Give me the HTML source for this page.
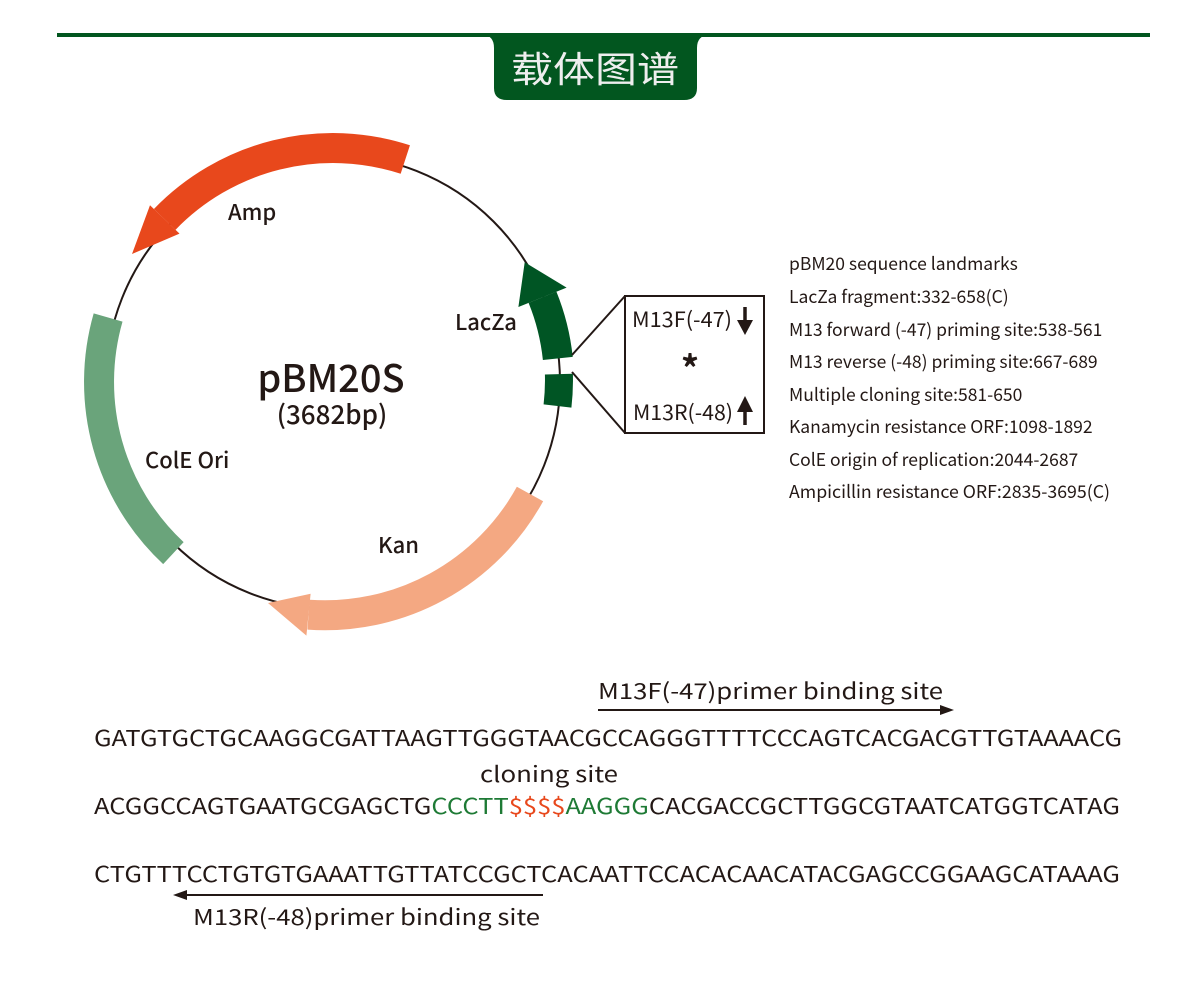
<!DOCTYPE html>
<html><head><meta charset="utf-8"><style>
html,body{margin:0;padding:0;background:#fff}
svg{display:block}
text{font-family:"Noto Sans CJK SC","Liberation Sans",sans-serif;fill:#231815}
</style></head><body>
<svg width="1200" height="1002" viewBox="0 0 1200 1002" xmlns="http://www.w3.org/2000/svg">
<!-- header -->
<rect x="57" y="33" width="1093" height="4" fill="#02561f"/>
<path d="M482,35 Q494,35 494,48 L494,88 Q494,100 507,100 L684,100 Q697,100 697,88 L697,48 Q697,35 710,35 Z" fill="#02561f"/>
<text x="595" y="82" text-anchor="middle" font-size="36" style="fill:#eee" textLength="168" lengthAdjust="spacingAndGlyphs">载体图谱</text>

<!-- plasmid circle -->
<circle cx="333" cy="382" r="227" fill="none" stroke="#231815" stroke-width="2"/>
<!-- Amp -->
<path d="M405.3,159.5 A234,234 0 0 0 164.7,219.4" fill="none" stroke="#e8481c" stroke-width="30"/>
<polygon points="179.5,233.6 150,205.2 132,254" fill="#e8481c"/>
<!-- Kan -->
<path d="M530,494 A234,234 0 0 1 308.5,614.7" fill="none" stroke="#f4a882" stroke-width="30"/>
<polygon points="310.6,593.8 306.4,635.6 268,603" fill="#f4a882"/>
<!-- ColE -->
<path d="M108.1,317.5 A234,234 0 0 0 173.4,553.1" fill="none" stroke="#6aa47b" stroke-width="30"/>
<!-- LacZa -->
<path d="M557.8,358.4 A226,226 0 0 0 542.5,297.3" fill="none" stroke="#005524" stroke-width="30"/>
<polygon points="518.4,307 566.6,287.6 524.7,262.2" fill="#005524"/>
<path d="M558.9,374.1 A226,226 0 0 1 557.5,406" fill="none" stroke="#005524" stroke-width="28"/>

<!-- zoom box -->
<line x1="572" y1="355" x2="625" y2="296" stroke="#231815" stroke-width="2"/>
<line x1="572" y1="372" x2="625" y2="433" stroke="#231815" stroke-width="2"/>
<rect x="625" y="296" width="139" height="137" fill="#fff" stroke="#231815" stroke-width="2"/>
<text x="632" y="327" font-size="21" textLength="100" lengthAdjust="spacingAndGlyphs">M13F(-47)</text>
<line x1="745" y1="307" x2="745" y2="330" stroke="#231815" stroke-width="3.5"/>
<polygon points="737,320 753,320 745,335" fill="#231815"/>
<text x="690" y="382" font-size="36" text-anchor="middle" font-weight="bold">*</text>
<text x="633" y="420" font-size="21" textLength="100" lengthAdjust="spacingAndGlyphs">M13R(-48)</text>
<line x1="745" y1="405" x2="745" y2="425" stroke="#231815" stroke-width="3.5"/>
<polygon points="737,412 753,412 745,396" fill="#231815"/>

<!-- labels -->
<g font-weight="500">
<text x="228" y="220" font-size="22">Amp</text>
<text x="455" y="330" font-size="22">LacZa</text>
<text x="145" y="468" font-size="22">ColE Ori</text>
<text x="378" y="553" font-size="22">Kan</text>
<text x="331" y="392" font-size="38" text-anchor="middle">pBM20S</text>
<text x="332" y="424" font-size="26" text-anchor="middle">(3682bp)</text>
</g>

<!-- legend -->
<g font-size="17.5">
<text x="789" y="270">pBM20 sequence landmarks</text>
<text x="789" y="303">LacZa fragment:332-658(C)</text>
<text x="789" y="336">M13 forward (-47) priming site:538-561</text>
<text x="789" y="368">M13 reverse (-48) priming site:667-689</text>
<text x="789" y="401">Multiple cloning site:581-650</text>
<text x="789" y="433">Kanamycin resistance ORF:1098-1892</text>
<text x="789" y="466">ColE origin of replication:2044-2687</text>
<text x="789" y="498" textLength="321" lengthAdjust="spacingAndGlyphs">Ampicillin resistance ORF:2835-3695(C)</text>
</g>

<!-- sequences -->
<text x="598" y="699" font-size="22" textLength="345" lengthAdjust="spacingAndGlyphs">M13F(-47)primer binding site</text>
<line x1="598" y1="710" x2="942" y2="710" stroke="#231815" stroke-width="2"/>
<polygon points="940,705 954,710 940,715" fill="#231815"/>
<text x="94" y="746" font-size="22" textLength="1028" lengthAdjust="spacingAndGlyphs">GATGTGCTGCAAGGCGATTAAGTTGGGTAACGCCAGGGTTTTCCCAGTCACGACGTTGTAAAACG</text>
<text x="480" y="782" font-size="22" textLength="138" lengthAdjust="spacingAndGlyphs">cloning site</text>
<text x="94" y="814" font-size="22" textLength="1026" lengthAdjust="spacingAndGlyphs">ACGGCCAGTGAATGCGAGCTG<tspan style="fill:#1e7a35">CCCTT</tspan><tspan style="fill:#e8481c">$$$$</tspan><tspan style="fill:#1e7a35">AAGGG</tspan>CACGACCGCTTGGCGTAATCATGGTCATAG</text>
<text x="94" y="882" font-size="22" textLength="1026" lengthAdjust="spacingAndGlyphs">CTGTTTCCTGTGTGAAATTGTTATCCGCTCACAATTCCACACAACATACGAGCCGGAAGCATAAAG</text>
<line x1="185" y1="895" x2="543" y2="895" stroke="#231815" stroke-width="2"/>
<polygon points="187,890 173,895 187,900" fill="#231815"/>
<text x="193" y="925" font-size="22" textLength="347" lengthAdjust="spacingAndGlyphs">M13R(-48)primer binding site</text>
</svg>
</body></html>
